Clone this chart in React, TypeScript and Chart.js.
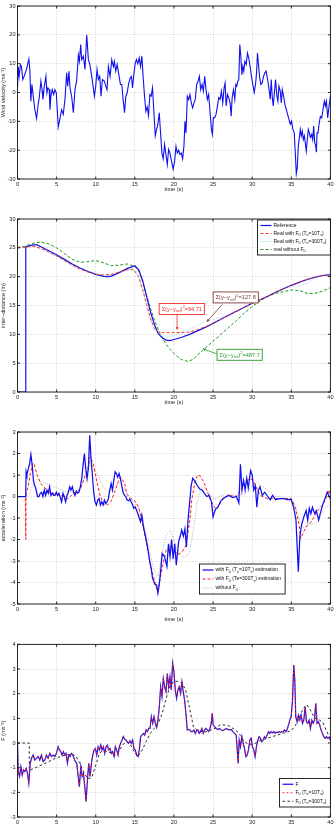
import React, { useEffect, useRef } from 'react';
import { Chart, registerables } from 'chart.js';

Chart.register(...registerables);

const FONT = '"Liberation Sans", Arial, Helvetica, sans-serif';
type P = [number, number][];

// ---------- Panel 1: wind velocity ----------
const timeTicks = [0, 5, 10, 15, 20, 25, 30, 35, 40];
const windVelocity: P = [
  [0, 1], [0.09, 9], [0.21, 5.6], [0.38, 9.7], [0.51, 9], [0.68, 4.5], [0.85, 5.6], [1.15, 8], [1.28, 9.6], [1.45, 11.6],
  [1.58, 8], [1.71, -3], [1.84, 2.8], [2.01, -1.3], [2.22, -5.9], [2.44, -9], [2.65, -4], [2.78, -1.8], [2.99, 3.9], [3.16, 0.5],
  [3.25, -2.4], [3.42, 2], [3.63, 5.6], [3.76, -0.1], [3.89, 1.6], [4.06, 1], [4.15, -6], [4.27, -1.3], [4.44, 1], [4.62, -0.7],
  [4.79, 1], [4.96, -0.1], [5.21, -12], [5.43, -9], [5.64, -6], [5.85, -7.6], [6.07, -2.4], [6.28, 6.8], [6.41, 2.2], [6.58, 7.4],
  [6.71, 1.6], [6.92, -1.3], [7.14, -7], [7.35, 1], [7.56, 4], [7.78, 13], [7.91, 10.8], [8.08, 16.6], [8.21, 11.4], [8.42, 12.6],
  [8.63, 8], [8.85, 20], [9.06, 11.4], [9.23, 10], [9.49, 5.6], [9.66, 2.2], [9.83, -1.3], [10.0, 2.2], [10.17, 8], [10.34, 4.5],
  [10.51, 5.6], [10.68, -1.3], [10.85, 4.5], [11.11, 4], [11.28, 2.2], [11.45, 1], [11.62, 9], [11.84, 5.6], [12.05, 11.4], [12.26, 9],
  [12.39, 10.8], [12.56, 7.4], [12.74, 9.7], [12.99, 5.6], [13.16, 2.8], [13.33, 2.8], [13.5, -2.4], [13.68, -7], [13.85, -1.3], [14.02, -0.1],
  [14.19, 2.8], [14.4, 5], [14.57, 5.6], [14.7, 1.6], [14.87, 6.2], [15.04, 10], [15.21, 11.4], [15.38, 10], [15.56, 12], [15.73, 9],
  [15.9, 12.6], [16.07, 5], [16.24, -1.3], [16.41, -6.5], [16.58, -5], [16.75, -8], [16.92, -0.7], [17.09, -1.3], [17.26, 1.6], [17.44, -7],
  [17.61, -15], [17.78, -12.8], [17.95, -11], [18.12, -7], [18.29, -14], [18.46, -21], [18.63, -23], [18.8, -18], [18.97, -21.5], [19.15, -25],
  [19.32, -19.7], [19.49, -21], [19.7, -24], [19.9, -26.6], [20.08, -24], [20.26, -18.7], [20.43, -21], [20.6, -20], [20.77, -21.5], [20.94, -21],
  [21.11, -23], [21.28, -18.5], [21.41, -10], [21.54, -14], [21.71, -1.3], [21.88, -2.5], [22.05, -0.7], [22.22, -3.6], [22.39, -5.3], [22.56, -3.6],
  [22.73, -2.4], [22.9, 2.8], [23.08, 3.9], [23.25, 5.6], [23.42, 1], [23.59, 2.8], [23.76, 0.5], [23.93, 5.6], [24.1, 1], [24.27, -2.4],
  [24.44, -0.7], [24.62, -7], [24.79, -12.8], [24.91, -14.5], [25.04, -8.7], [25.21, -8.7], [25.38, -7.6], [25.56, -4.7], [25.73, -1.8], [25.9, -2.4],
  [26.07, 0.5], [26.24, -3.6], [26.41, 1.6], [26.54, 3.3], [26.67, -4.7], [26.84, -0.7], [27.01, -1.8], [27.18, -3.6], [27.31, -8.2], [27.44, -1.8],
  [27.61, 1], [27.78, -2.4], [27.91, 2.8], [28.03, 2.2], [28.16, 3.9], [28.29, 4.4], [28.42, 16.6], [28.55, 12.6], [28.68, 6.2], [28.8, 9.1],
  [28.93, 7.4], [29.06, 10.8], [29.23, 9.7], [29.4, 13.7], [29.57, 11.9], [29.74, 9], [29.91, 5.6], [30.08, 2.8], [30.26, 0], [30.43, 2.8],
  [30.56, 6.8], [30.68, 13.7], [30.81, 9.6], [30.94, 5.6], [31.11, 2.8], [31.28, 3.3], [31.45, 5.6], [31.62, 6.8], [31.79, 7.4], [31.97, 4.5],
  [32.14, 1.6], [32.31, -2.4], [32.44, 4.5], [32.56, -1.3], [32.69, -4.7], [32.82, -0.7], [32.99, 4.5], [33.16, -1.3], [33.29, -3], [33.42, 2.2],
  [33.59, 0.5], [33.72, -3.6], [33.85, 1], [34.02, -1.3], [34.19, -4.2], [34.36, -5.9], [34.53, -7.6], [34.7, -9.3], [34.87, -11], [35.04, -9.9],
  [35.21, -12.8], [35.38, -14], [35.51, -20.7], [35.64, -28.2], [35.77, -26], [35.9, -18.5], [36.03, -15.8], [36.15, -12.8], [36.28, -15], [36.41, -13.4],
  [36.54, -16.3], [36.67, -15], [36.79, -17.5], [36.92, -20.3], [37.05, -16.3], [37.18, -12.8], [37.31, -14], [37.44, -15.6], [37.61, -14.5], [37.74, -16.3],
  [37.86, -11.6], [37.99, -17.3], [38.12, -18.5], [38.21, -20.7], [38.29, -14], [38.42, -14], [38.55, -11], [38.72, -8.3], [38.89, -8.8], [39.06, -5.9],
  [39.23, -3], [39.36, -4.7], [39.49, -3], [39.66, -8.8], [39.83, -4.7], [40, -1.3],
];

// ---------- Panel 2: inter-distance ----------
const distReference: P = [
  [0, 0], [1.05, 0], [1.06, 25.2], [2, 25.5], [2.5, 25.5], [3, 25.2], [4, 24.5], [5, 23.8], [6, 23], [7, 22.2], [8, 21.5], [9, 20.9],
  [10, 20.4], [11, 20.05], [11.5, 20], [12, 20.1], [13, 20.7], [14, 21.4], [15, 21.9], [15.5, 21.2], [16, 19.3], [16.5, 16.6], [17, 13.9],
  [17.5, 11.7], [18, 10.1], [18.5, 9.4], [19, 9.0], [19.5, 8.9], [20, 9.1], [21, 9.5], [22, 10], [23, 10.6], [24, 11.2], [25, 11.9], [26, 12.6],
  [27, 13.3], [28, 14], [29, 14.7], [30, 15.4], [31, 16], [32, 16.6], [33, 17.3], [34, 17.9], [35, 18.5], [36, 19], [37, 19.5], [38, 19.9],
  [39, 20.2], [40, 20.3],
];
const distF0Te10: P = [
  [0, 25.1], [1, 25.1], [2, 25.3], [3, 24.9], [4, 24.3], [5, 23.6], [6, 22.8], [7, 22.0], [8, 21.3], [9, 20.8], [10, 20.4], [11, 20.3],
  [12, 20.4], [13, 20.8], [14, 21.2], [14.8, 21.3], [15.5, 20], [16, 17.8], [16.5, 15.2], [17, 12.8], [17.5, 11], [18, 10.4], [18.5, 10.3],
  [20, 10.3], [21, 10.3], [22, 10.4], [23, 10.8], [24, 11.3], [25, 11.9], [26, 12.6], [27, 13.3], [28, 14], [29, 14.7], [30, 15.4], [31, 16],
  [32, 16.6], [33, 17.3], [34, 17.9], [35, 18.5], [36, 19], [37, 19.5], [38, 19.9], [39, 20.2], [40, 20.3],
];
const distF0Te300: P = [
  [0, 25.1], [1, 25.1], [2, 25.2], [3, 24.8], [4, 24.2], [5, 23.5], [6, 22.7], [7, 21.9], [8, 21.3], [9, 21], [10, 20.6], [11, 20.3],
  [12, 20.3], [13, 20.7], [14, 21.1], [15, 21], [15.5, 19.8], [16, 17.5], [16.5, 14.8], [17, 12.5], [17.5, 10.8], [18, 10], [18.5, 9.6],
  [19, 9.5], [20, 9.8], [21, 10.3], [22, 10.9], [23, 11.5], [24, 12.3], [25, 12.6], [26, 13], [27, 13.5], [28, 14.1], [29, 14.7], [30, 15.3],
  [31, 15.9], [32, 16.6], [33, 17.3], [34, 17.9], [35, 18.3], [36, 18.4], [37, 18.8], [38, 19.6], [39, 20.3], [40, 20.6],
];
const distNoF0: P = [
  [0, 25], [1, 25.3], [2, 25.8], [3, 26], [4, 25.7], [5, 25], [6, 24], [7, 23], [8, 22.5], [9, 22.6], [10, 22.8], [11, 22.4], [12, 21.9],
  [13, 22], [14, 22.2], [15, 21.8], [15.5, 21], [16, 19.2], [16.5, 16.8], [17, 14.5], [17.5, 12.5], [18, 10.8], [18.5, 9.4], [19, 8.3],
  [19.5, 7.4], [20, 6.7], [20.5, 6.1], [21, 5.6], [21.8, 5.3], [22.5, 5.7], [23, 6.4], [24, 7.6], [25, 8.8], [26, 10], [27, 11.2], [28, 12.4],
  [29, 13.7], [30, 14.8], [31, 15.8], [32, 16.6], [33, 17.1], [34, 17.4], [35, 17.7], [36, 17.6], [37, 17.1], [38, 17.1], [39, 17.5], [40, 18.1],
];

// ---------- Panel 3: acceleration ----------
const accelF0Te10: P = [
  [0, 0], [1.05, 0], [1.1, 1.15], [1.2, 1.0], [1.38, 1.3], [1.54, 1.5], [1.71, 1.95], [1.88, 1.45], [2.05, 0.7], [2.22, 0.5], [2.39, 0.3],
  [2.56, 0], [2.74, 0], [2.91, 0.15], [3.08, 0.2], [3.25, 0], [3.42, 0.3], [3.59, 0.05], [3.76, 0.3], [3.93, 0.15], [4.1, 0.45], [4.27, 0.05],
  [4.44, 0.15], [4.62, 0.05], [4.79, 0.05], [4.96, 0.2], [5.13, 0.05], [5.3, 0.15], [5.47, -0.05], [5.64, -0.25], [5.81, 0.15], [5.98, 0],
  [6.15, -0.25], [6.32, 0.05], [6.5, 0.2], [6.67, 0.45], [6.84, 0.3], [7.01, 0.45], [7.18, 0.2], [7.35, 0.05], [7.52, 0.25], [7.69, 0.15],
  [7.86, 0.2], [8.03, 0.45], [8.21, 0.83], [8.38, 1.45], [8.55, 2.0], [8.72, 1.3], [8.89, 0.83], [9.06, 1.3], [9.23, 2.85], [9.4, 1.75],
  [9.57, 1.0], [9.74, 0.2], [9.91, -0.25], [10.09, -0.4], [10.26, -0.17], [10.43, -0.1], [10.6, -0.4], [10.77, -0.25], [10.94, -0.4],
  [11.11, -0.17], [11.28, -0.33], [11.45, -0.25], [11.62, -0.1], [11.79, 0.3], [11.97, 0.6], [12.14, 0.3], [12.31, 0.75], [12.48, 1.15],
  [12.65, 1.07], [12.82, 0.9], [12.99, 1.07], [13.16, 0.83], [13.33, 0.5], [13.5, 0.2], [13.67, 0.05], [13.85, 0], [14.02, -0.17], [14.19, -0.2],
  [14.36, -0.12], [14.53, -0.25], [14.7, -0.37], [14.87, -0.55], [15.04, -0.48], [15.21, -0.63], [15.38, -0.79], [15.56, -1.0], [15.73, -1.17],
  [15.9, -0.86], [16.07, -1.33], [16.24, -1.64], [16.41, -1.95], [16.58, -2.26], [16.75, -2.64], [16.92, -3.03], [17.09, -3.34], [17.26, -3.8],
  [17.44, -3.96], [17.61, -4.11], [17.78, -4.11], [17.95, -4.5], [18.12, -4.1], [18.29, -3.5], [18.5, -2.65], [18.8, -2.8], [19.1, -3.25],
  [19.3, -2.2], [19.5, -2.8], [19.7, -2.0], [19.9, -2.9], [20.1, -2.2], [20.3, -3.2], [20.6, -2.1], [20.8, -1.85], [21.0, -1.55], [21.2, -1.85],
  [21.4, -1.5], [21.6, -2.35], [21.8, -1.1], [22.0, -0.3], [22.2, 0.5], [22.4, 0.85], [22.7, 0.7], [23.0, 0.5], [23.3, 0.35], [23.6, 0.3],
  [23.9, 0.15], [24.2, 0], [24.5, 0.05], [24.8, -0.25], [25.0, -0.95], [25.3, -0.6], [25.6, -0.5], [26, -0.2], [26.5, -0.05], [27, 0.05],
  [27.5, -0.05], [28, 0], [28.3, -0.3], [28.5, 1.5], [28.7, 0.3], [28.9, 0.75], [29.1, 0.3], [29.3, 0.85], [29.5, 0.4], [29.8, 1.2], [30.0, 1.0],
  [30.2, 0.3], [30.4, 0.5], [30.6, -0.5], [30.8, 0.3], [31.0, 0.45], [31.3, 0.05], [31.6, 0.2], [32, 0], [32.3, -0.15], [32.6, 0.05], [33, -0.15],
  [33.5, -0.1], [34, -0.1], [34.5, -0.15], [35, -0.15], [35.3, -0.5], [35.6, -1.1], [35.9, -3.5], [36.1, -1.85], [36.3, -1.35], [36.6, -0.95],
  [36.9, -0.65], [37.1, -1.1], [37.3, -0.55], [37.5, -0.8], [37.7, -0.5], [38, -0.8], [38.2, -0.65], [38.5, -1.1], [38.7, -0.8], [39, -0.4],
  [39.3, -0.1], [39.6, 0.2], [39.8, 0.05], [40, -0.1],
];
const accelF0Te300: P = [
  [0, 0], [1.0, 0], [1.06, -2], [1.1, 0.15], [1.3, 0.35], [1.6, 1.0], [1.9, 1.5], [2.1, 1.55], [2.5, 1.0], [3, 0.6], [3.5, 0.4], [4, 0.2],
  [5, 0.1], [6, 0], [6.5, -0.1], [7, 0.1], [7.5, 0.25], [8, 0.3], [8.5, 0.8], [9, 1.3], [9.3, 1.85], [9.7, 1.5], [10.2, 0.6], [10.6, 0],
  [11, -0.35], [11.5, -0.4], [12, -0.2], [12.5, 0.3], [13, 0.8], [13.2, 0.9], [13.7, 0.6], [14, 0.1], [14.5, -0.1], [15, -0.2], [15.5, -0.5],
  [16, -1.3], [16.5, -2.2], [17, -3.2], [17.5, -3.9], [17.8, -4.3], [18.1, -4.1], [18.5, -3.3], [19, -2.5], [19.5, -2.3], [20, -2.5],
  [20.5, -2.7], [21, -2.6], [21.5, -2.3], [22, -1.2], [22.3, -0.1], [22.7, 0.7], [23, 1.0], [23.4, 0.95], [24, 0.5], [24.5, 0], [25, -0.4],
  [25.4, -0.6], [25.8, -0.4], [26.3, -0.05], [27, 0.05], [28, 0], [28.5, 0.3], [29, 0.55], [29.5, 0.8], [30, 0.8], [30.5, 0.45], [31, 0.05],
  [32, -0.1], [33, -0.1], [34, -0.1], [35, -0.1], [35.5, -0.5], [36, -1.3], [36.2, -1.95], [36.5, -1.7], [37, -1.35], [37.5, -1.2], [38, -0.9],
  [38.5, -0.6], [39, -0.4], [39.5, -0.05], [39.8, 0.3], [40, 0.1],
];
const accelNoF0: P = [
  [0, 0], [1.05, 0], [1.5, 0.1], [2, 0.6], [2.5, 0.8], [3, 0.7], [4, 0.55], [5, 0.4], [6, 0.25], [7, 0.2], [8, 0.4], [8.5, 0.9], [9, 1.3],
  [9.5, 1.5], [10, 1.2], [10.5, 0.8], [11, 0.4], [11.5, 0.25], [12, 0.3], [12.5, 0.5], [13, 0.6], [13.5, 0.45], [14, 0.1], [14.5, -0.15],
  [15, -0.3], [15.5, -0.6], [16, -1.1], [16.5, -1.9], [17, -2.7], [17.5, -3.5], [18, -3.7], [18.5, -2.6], [19, -1.8], [19.5, -1.6], [20, -2.0],
  [20.5, -2.6], [21, -2.8], [21.5, -2.8], [22, -2.6], [22.5, -1.5], [23, -0.2], [23.5, 0.4], [24, 0.4], [24.5, 0.2], [25, -0.1], [25.5, -0.1],
  [26, 0.05], [27, 0.1], [28, 0.05], [29, 0.1], [30, 0.5], [30.5, 0.7], [31, 0.55], [32, 0.3], [33, 0], [34, -0.05], [35, -0.1], [35.5, -0.4],
  [36, -1.0], [36.5, -1.45], [37, -1.4], [37.5, -1.3], [38, -1.25], [38.5, -1.1], [39, -0.7], [39.5, -0.5], [40, -0.4],
];

// ---------- Panel 4: F ----------
const forceF: P = [
  [0, 0], [0.09, -1.16], [0.26, -1.36], [0.43, -0.96], [0.6, -1.3], [0.77, -1.09], [0.94, -1.16], [1.11, -1.03], [1.28, -1.23], [1.45, -1.63],
  [1.62, -0.82], [1.79, -0.62], [2.0, -0.49], [2.21, -0.69], [2.43, -0.62], [2.64, -0.55], [2.85, -0.69], [3.06, -0.49], [3.28, -0.76], [3.49, -0.69],
  [3.7, -0.49], [3.91, -0.62], [4.13, -0.42], [4.34, -0.55], [4.55, -0.49], [4.77, -0.55], [4.98, -0.42], [5.19, -0.15], [5.36, -0.28], [5.53, -0.35],
  [5.7, -0.49], [5.87, -0.35], [6.04, -0.49], [6.21, -0.42], [6.38, -0.82], [6.55, -0.49], [6.72, -0.55], [6.89, -0.42], [7.06, -0.49], [7.23, -0.62],
  [7.4, -0.76], [7.57, -0.82], [7.74, -1.3], [7.91, -1.77], [8.09, -0.96], [8.26, -1.36], [8.43, -1.23], [8.6, -1.77], [8.77, -2.38], [8.94, -1.5],
  [9.11, -0.82], [9.28, -1.36], [9.45, -0.82], [9.62, -0.49], [9.79, -0.28], [9.96, -0.22], [10.13, -0.49], [10.3, -0.15], [10.47, -0.28], [10.64, -0.08],
  [10.81, -0.28], [10.98, -0.15], [11.15, -0.42], [11.32, -0.15], [11.49, -0.08], [11.66, -0.28], [11.83, -0.22], [12.0, -0.42], [12.17, -0.35], [12.34, -0.55],
  [12.51, -0.15], [12.68, -0.28], [12.85, -0.49], [13.02, -0.15], [13.19, -0.01], [13.36, 0.12], [13.53, 0.26], [13.7, 0.15], [13.87, 0.12], [14.04, 0.05],
  [14.21, -0.01], [14.38, 0.09], [14.55, -0.01], [14.72, 0.12], [14.89, -0.22], [15.06, -0.28], [15.23, -0.49], [15.4, -0.55], [15.57, -0.28], [15.74, 0.26],
  [15.91, 0.32], [16.09, 0.39], [16.26, 0.32], [16.43, 0.53], [16.6, 0.46], [16.77, 0.59], [16.94, 0.59], [17.11, 1.07], [17.28, 0.8], [17.45, 1.07],
  [17.62, 0.8], [17.79, 0.63], [17.96, 0.93], [18.13, 1.47], [18.3, 2.28], [18.47, 1.88], [18.64, 2.62], [18.81, 2.28], [18.98, 2.08], [19.15, 2.82],
  [19.32, 2.28], [19.49, 2.69], [19.66, 2.15], [19.83, 3.23], [20.0, 2.89], [20.17, 2.15], [20.34, 1.81], [20.51, 2.15], [20.68, 2.28], [20.85, 2.01],
  [21.02, 2.48], [21.19, 2.08], [21.36, 1.74], [21.53, 1.2], [21.7, 0.53], [21.87, 0.55], [22.04, 0.53], [22.21, 0.46], [22.38, 0.46], [22.55, 0.53],
  [22.72, 0.39], [22.89, 0.5], [23.06, 0.53], [23.23, 0.39], [23.4, 0.46], [23.57, 0.59], [23.74, 0.39], [23.91, 0.53], [24.09, 0.59], [24.26, 0.53],
  [24.43, 0.46], [24.6, 0.59], [24.77, 0.8], [24.89, 1.2], [25.02, 0.73], [25.19, 0.66], [25.4, 0.59], [25.62, 0.55], [25.83, 0.59], [26.04, 0.53],
  [26.26, 0.5], [26.47, 0.55], [26.68, 0.59], [26.89, 0.55], [27.11, 0.53], [27.32, 0.55], [27.53, 0.46], [27.74, 0.39], [27.96, 0.32], [28.09, -0.28],
  [28.21, -0.82], [28.34, 0.12], [28.51, -0.15], [28.68, 0.26], [28.85, -0.01], [29.02, -0.22], [29.19, -0.55], [29.36, -0.49], [29.53, -0.28], [29.7, 0.12],
  [29.87, 0.19], [30.04, -0.15], [30.21, -0.28], [30.38, -0.55], [30.55, -0.15], [30.72, 0.12], [30.89, 0.26], [31.06, 0.19], [31.23, 0.05], [31.4, 0.12],
  [31.57, 0.26], [31.74, 0.19], [31.91, 0.32], [32.09, 0.46], [32.26, 0.39], [32.43, 0.46], [32.6, 0.42], [32.77, 0.46], [32.94, 0.39], [33.11, 0.45],
  [33.28, 0.42], [33.45, 0.46], [33.62, 0.43], [33.79, 0.46], [33.96, 0.46], [34.13, 0.53], [34.3, 0.46], [34.47, 0.55], [34.64, 0.73], [34.81, 0.93],
  [34.98, 1.07], [35.15, 1.67], [35.32, 3.16], [35.45, 2.55], [35.57, 1.07], [35.74, 0.86], [35.91, 1.13], [36.09, 0.93], [36.26, 1.13], [36.43, 0.8],
  [36.6, 0.93], [36.77, 1.47], [36.94, 0.86], [37.11, 0.8], [37.28, 0.93], [37.45, 0.59], [37.62, 0.93], [37.79, 0.8], [37.96, 0.93], [38.13, 1.6],
  [38.3, 0.8], [38.47, 0.86], [38.64, 0.73], [38.81, 0.53], [38.98, 0.39], [39.15, 0.26], [39.32, 0.19], [39.49, 0.26], [39.66, 0.19], [39.83, 0.23],
  [40, 0.12],
];
const forceF0Te300: P = [
  [0, 0], [1.5, 0], [1.52, -1.1], [2, -1.05], [3, -0.9], [4, -0.75], [5, -0.6], [6, -0.5], [7, -0.45], [7.5, -0.55], [8, -0.85], [8.5, -1.2],
  [9, -1.45], [9.5, -1.4], [10, -0.9], [10.5, -0.4], [11, -0.3], [12, -0.4], [12.5, -0.5], [13, -0.3], [13.5, -0.05], [14, 0.05], [14.5, -0.1],
  [15, -0.4], [15.4, -0.55], [16, -0.25], [16.5, 0.1], [17, 0.4], [17.5, 0.6], [18, 0.8], [18.5, 1.2], [19, 1.8], [19.5, 2.3], [20, 2.5],
  [20.5, 2.5], [21, 2.45], [21.5, 2.15], [22, 1.4], [22.5, 0.65], [23, 0.5], [24, 0.45], [25, 0.55], [26, 0.75], [27, 0.7], [28, 0.5],
  [28.5, 0.3], [29, 0.05], [29.5, -0.05], [30, -0.05], [30.5, 0], [31, 0.1], [32, 0.2], [33, 0.3], [34, 0.4], [35, 0.5], [35.5, 0.7], [36, 1.0],
  [36.5, 1.4], [37, 1.55], [37.5, 1.3], [38, 1.0], [38.5, 0.95], [39, 0.85], [39.5, 0.5], [40, 0.15],
];

// ---------- rich text helpers ----------
function splitRich(text: string) {
  return text.split(/(_\{[^}]*\}|\^\{[^}]*\})/).filter((p) => p.length > 0);
}
function measureRich(ctx: CanvasRenderingContext2D, text: string, size: number) {
  let w = 0;
  for (const p of splitRich(text)) {
    const small = p.startsWith('_{') || p.startsWith('^{');
    const t = small ? p.slice(2, -1) : p;
    ctx.font = `${small ? size * 0.72 : size}px ${FONT}`;
    w += ctx.measureText(t).width;
  }
  return w;
}
function drawRich(ctx: CanvasRenderingContext2D, text: string, x: number, y: number, size: number) {
  let cx = x;
  ctx.textBaseline = 'middle';
  ctx.textAlign = 'left';
  for (const p of splitRich(text)) {
    let t = p, s = size, dy = 0;
    if (p.startsWith('_{')) { t = p.slice(2, -1); s = size * 0.72; dy = size * 0.32; }
    else if (p.startsWith('^{')) { t = p.slice(2, -1); s = size * 0.72; dy = -size * 0.38; }
    ctx.font = `${s}px ${FONT}`;
    ctx.fillText(t, cx, y + dy);
    cx += ctx.measureText(t).width;
  }
}

// ---------- plugins ----------
const boxPlugin = {
  id: 'matBox',
  afterDatasetsDraw(chart: any) {
    const { ctx, chartArea: a, scales } = chart;
    ctx.save();
    ctx.strokeStyle = '#111';
    ctx.lineWidth = 0.9;
    ctx.setLineDash([]);
    ctx.strokeRect(a.left, a.top, a.right - a.left, a.bottom - a.top);
    const L = 2.5;
    ctx.beginPath();
    for (const t of scales.x.ticks) {
      const px = scales.x.getPixelForValue(t.value);
      ctx.moveTo(px, a.bottom); ctx.lineTo(px, a.bottom - L);
      ctx.moveTo(px, a.top); ctx.lineTo(px, a.top + L);
    }
    for (const t of scales.y.ticks) {
      const py = scales.y.getPixelForValue(t.value);
      ctx.moveTo(a.left, py); ctx.lineTo(a.left + L, py);
      ctx.moveTo(a.right, py); ctx.lineTo(a.right - L, py);
    }
    ctx.stroke();
    ctx.restore();
  },
};

const notesPlugin = {
  id: 'matNotes',
  afterDraw(chart: any, _args: any, opts: any) {
    const items = opts && opts.items;
    if (!items || !items.length) return;
    const { ctx, scales } = chart;
    const X = (v: number) => scales.x.getPixelForValue(v);
    const Y = (v: number) => scales.y.getPixelForValue(v);
    ctx.save();
    for (const n of items) {
      const fs = 5.6;
      // arrow
      const [x1, y1, x2, y2] = n.arrow;
      const ax = X(x1), ay = Y(y1), bx = X(x2), by = Y(y2);
      ctx.strokeStyle = n.color; ctx.fillStyle = n.color; ctx.lineWidth = 0.8; ctx.setLineDash([]);
      ctx.beginPath(); ctx.moveTo(ax, ay); ctx.lineTo(bx, by); ctx.stroke();
      const ang = Math.atan2(by - ay, bx - ax);
      ctx.beginPath();
      ctx.moveTo(bx, by);
      ctx.lineTo(bx - 3 * Math.cos(ang - 0.45), by - 3 * Math.sin(ang - 0.45));
      ctx.lineTo(bx - 3 * Math.cos(ang + 0.45), by - 3 * Math.sin(ang + 0.45));
      ctx.closePath(); ctx.fill();
      // box
      const w = measureRich(ctx, n.text, fs) + 5;
      const h = 11;
      const cx = X(n.x), cy = Y(n.y);
      ctx.fillStyle = '#fff';
      ctx.fillRect(cx - w / 2, cy - h / 2, w, h);
      ctx.strokeStyle = n.color; ctx.lineWidth = 0.9;
      ctx.strokeRect(cx - w / 2, cy - h / 2, w, h);
      ctx.fillStyle = n.color;
      drawRich(ctx, n.text, cx - w / 2 + 2.5, cy + 0.3, fs);
    }
    ctx.restore();
  },
};

const legendPlugin = {
  id: 'matLegend',
  afterDraw(chart: any, _args: any, opts: any) {
    if (!opts || !opts.show) return;
    const { ctx, chartArea: a } = chart;
    const ds = chart.data.datasets;
    const fs = opts.fontSize || 5;
    const rowH = opts.rowH || 8.5;
    const sample = opts.sample || 11;
    ctx.save();
    let maxW = 0;
    for (const d of ds) maxW = Math.max(maxW, measureRich(ctx, d.label, fs));
    const w = opts.width || 3 + sample + 2 + maxW + 4;
    const h = rowH * ds.length + 3;
    const x = opts.right != null ? a.right - opts.right - w : a.left + opts.left;
    const y = opts.top != null ? a.top + opts.top : a.bottom - opts.bottom - h;
    ctx.fillStyle = '#fff';
    ctx.fillRect(x, y, w, h);
    ctx.strokeStyle = '#111'; ctx.lineWidth = 0.9; ctx.setLineDash([]);
    ctx.strokeRect(x, y, w, h);
    ds.forEach((d: any, i: number) => {
      const cy = y + 1.5 + rowH * (i + 0.5);
      ctx.strokeStyle = d.borderColor;
      ctx.lineWidth = d.borderWidth;
      ctx.setLineDash(d.borderDash || []);
      ctx.beginPath(); ctx.moveTo(x + 3, cy); ctx.lineTo(x + 3 + sample, cy); ctx.stroke();
      ctx.setLineDash([]);
      ctx.fillStyle = '#111';
      drawRich(ctx, d.label, x + 3 + sample + 2, cy, fs);
    });
    ctx.restore();
  },
};

// ---------- chart building ----------
function series(label: string, pairs: P, color: string, width: number, dash: number[], order: number) {
  return {
    label,
    data: pairs.map(([x, y]) => ({ x, y })),
    borderColor: color,
    backgroundColor: color,
    borderWidth: width,
    borderDash: dash,
    pointRadius: 0,
    tension: 0,
    fill: false,
    order,
  };
}

type Spec = {
  top: number; height: number; padTop: number; padBottom: number; xAxisH: number; xTitle: string;
  yMin: number; yMax: number; yStep: number; yTitle: string; datasets: any[]; legend: any; notes: any[];
};

const tickFont = { family: FONT, size: 5.6 };
const titleFont = { family: FONT, size: 5.6 };

function buildConfig(s: Spec): any {
  return {
    type: 'line',
    data: { datasets: s.datasets },
    plugins: [boxPlugin, notesPlugin, legendPlugin],
    options: {
      animation: false,
      responsive: false,
      events: [],
      layout: { padding: { top: s.padTop, right: 5, bottom: s.padBottom, left: 0 } },
      plugins: {
        legend: { display: false },
        tooltip: { enabled: false },
        matLegend: s.legend || { show: false },
        matNotes: { items: s.notes },
      },
      scales: {
        x: {
          type: 'linear', min: 0, max: 40,
          afterBuildTicks: (sc: any) => { sc.ticks = timeTicks.map((v) => ({ value: v })); },
          ticks: { font: tickFont, color: '#222', padding: 2.5, maxRotation: 0, autoSkip: false },
          grid: { color: '#b8b8b8', lineWidth: 0.6, drawTicks: false },
          border: { display: false, dash: [1, 1.6] },
          title: { display: !!s.xTitle, text: s.xTitle, font: titleFont, color: '#222', padding: { top: 0, bottom: 0 } },
          afterFit: (sc: any) => { sc.height = s.xAxisH; },
        },
        y: {
          type: 'linear', min: s.yMin, max: s.yMax,
          ticks: { stepSize: s.yStep, font: tickFont, color: '#222', padding: 2 },
          grid: { color: '#b8b8b8', lineWidth: 0.6, drawTicks: false },
          border: { display: false, dash: [1, 1.6] },
          title: { display: true, text: s.yTitle, font: titleFont, color: '#222', padding: { top: 0, bottom: 0 } },
          afterFit: (sc: any) => { sc.width = 17.5; },
        },
      },
    },
  };
}

const BLUE = '#1010ee';

const specs: Spec[] = [
  {
    top: 0, height: 213, padTop: 6, padBottom: 20, xAxisH: 14, xTitle: 'time (s)',
    yMin: -30, yMax: 30, yStep: 10, yTitle: 'Wind velocity (ms⁻¹)',
    datasets: [series('Wind velocity', windVelocity, BLUE, 1.1, [], 0)],
    legend: null, notes: [],
  },
  {
    top: 213, height: 213, padTop: 6, padBottom: 20, xAxisH: 14, xTitle: 'time (s)',
    yMin: 0, yMax: 30, yStep: 5, yTitle: 'inter−distance (m)',
    datasets: [
      series('Reference', distReference, BLUE, 1.2, [], 1),
      series('Real with F_{0} (T_{e}=10T_{s})', distF0Te10, '#f03a22', 1.0, [3, 2], 0),
      series('Real with F_{0} (T_{e}=300T_{s})', distF0Te300, '#8fcfe6', 0.9, [1, 1.4], 2),
      series('real without F_{0}', distNoF0, '#1a9a1a', 1.0, [3, 2], 3),
    ],
    legend: { show: true, right: 0, top: 1, fontSize: 5, rowH: 8, sample: 11 },
    notes: [
      { text: 'Σ(y−y_{ref})^{2}=127.8', color: '#7a3a32', x: 27.9, y: 16.4, arrow: [26.2, 15.2, 24.2, 12.2] },
      { text: 'Σ(y−y_{ref})^{2}=94.71', color: '#f02a2a', x: 21.0, y: 14.4, arrow: [20.4, 13.4, 20.4, 10.8] },
      { text: 'Σ(y−y_{ref})^{2}=487.7', color: '#2a9a2a', x: 28.4, y: 6.45, arrow: [25.5, 6.6, 23.7, 7.5] },
    ],
  },
  {
    top: 426, height: 213, padTop: 6, padBottom: 16, xAxisH: 19, xTitle: 'time (s)',
    yMin: -5, yMax: 3, yStep: 1, yTitle: 'acceleration (ms⁻²)',
    datasets: [
      series('with F_{0} (T_{e}=10T_{s}) estimation', accelF0Te10, BLUE, 1.25, [], 0),
      series('with F_{0} (Te=300T_{s}) estimation', accelF0Te300, '#ff1a1a', 1.0, [3, 2], 1),
      series('without F_{0}', accelNoF0, '#a0a0a0', 0.8, [1, 1.4], 2),
    ],
    legend: { show: true, left: 182, bottom: 10, fontSize: 5, rowH: 9, sample: 11 },
    notes: [],
  },
  {
    top: 639, height: 186, padTop: 5, padBottom: 0, xAxisH: 8, xTitle: '',
    yMin: -3, yMax: 4, yStep: 1, yTitle: 'F (ms⁻²)',
    datasets: [
      series('F', forceF, BLUE, 1.2, [], 1),
      series('F_{0} (T_{e}=10T_{s})', forceF, '#ff1a1a', 0.9, [2, 2], 0),
      series('F_{0} (T_{e}=300T_{s})', forceF0Te300, '#111111', 0.9, [2.5, 2.5], 2),
    ],
    legend: { show: true, right: 0, bottom: 10, fontSize: 5, rowH: 8.5, sample: 11 },
    notes: [],
  },
];

function Panel({ spec }: { spec: Spec }) {
  const ref = useRef<HTMLCanvasElement>(null);
  useEffect(() => {
    const chart = new Chart(ref.current as HTMLCanvasElement, buildConfig(spec));
    return () => chart.destroy();
  }, [spec]);
  return (
    <div style={{ position: 'absolute', left: 0, top: spec.top, width: 336, height: spec.height }}>
      <canvas ref={ref} width={336} height={spec.height} style={{ width: 336, height: spec.height, display: 'block' }} />
    </div>
  );
}

export default function App() {
  return (
    <div style={{ position: 'absolute', left: 0, top: 0, width: 336, height: 825, overflow: 'hidden', background: '#fff' }}>
      {specs.map((s, i) => (
        <Panel key={i} spec={s} />
      ))}
    </div>
  );
}
